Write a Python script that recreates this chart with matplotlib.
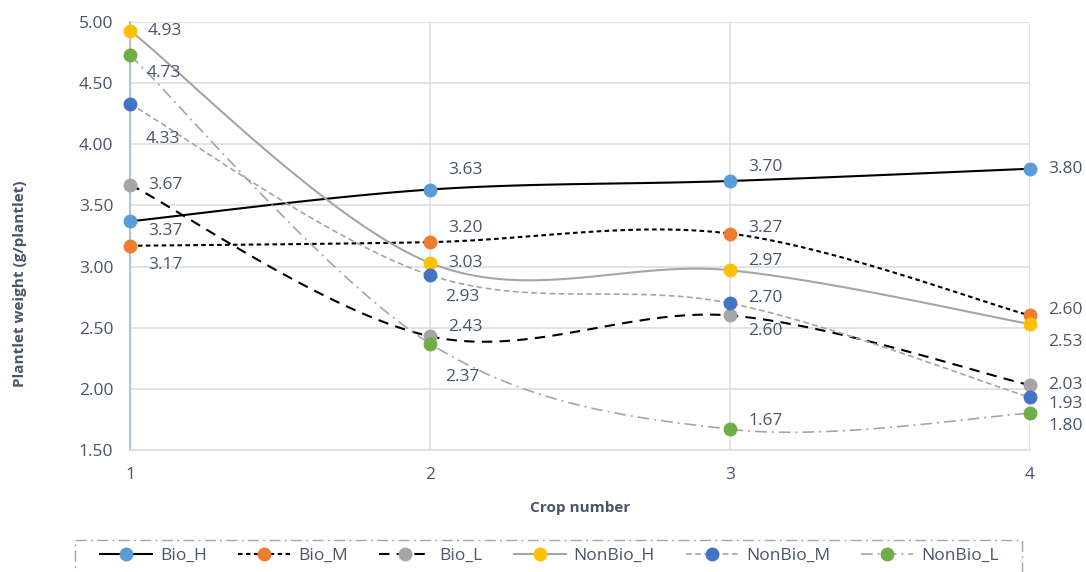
import numpy as np
import matplotlib
matplotlib.use("Agg")
import matplotlib.pyplot as plt
from matplotlib.lines import Line2D
from matplotlib.patches import Rectangle

crops = [1, 2, 3, 4]
bio_h = [3.37, 3.63, 3.70, 3.80]
bio_m = [3.17, 3.20, 3.27, 2.60]
bio_l = [3.67, 2.43, 2.60, 2.03]
nonbio_h = [4.93, 3.03, 2.97, 2.53]
nonbio_m = [4.33, 2.93, 2.70, 1.93]
nonbio_l = [4.73, 2.37, 1.67, 1.80]
series_names = ["Bio_H", "Bio_M", "Bio_L", "NonBio_H", "NonBio_M", "NonBio_L"]
y_ticks = [1.50, 2.00, 2.50, 3.00, 3.50, 4.00, 4.50, 5.00]

TEXT = "#4A5568"
GRID = "#D9DEE6"

plt.rcParams["font.family"] = ["Open Sans", "DejaVu Sans"]


def smooth(xs, ys, n=40):
    """Cardinal (Catmull-Rom) Bezier smoothing through every point."""
    p = np.column_stack([xs, ys]).astype(float)
    ext = np.vstack([p[0], p, p[-1]])
    out = [p[0]]
    t = np.linspace(0, 1, n)[1:, None]
    for i in range(len(p) - 1):
        p0, p1, p2, p3 = ext[i], ext[i + 1], ext[i + 2], ext[i + 3]
        c1 = p1 + (p2 - p0) / 6.0
        c2 = p2 - (p3 - p1) / 6.0
        seg = ((1 - t) ** 3) * p1 + 3 * ((1 - t) ** 2) * t * c1 + 3 * (1 - t) * t ** 2 * c2 + t ** 3 * p2
        out.extend(seg)
    out = np.array(out)
    return out[:, 0], out[:, 1]


fig = plt.figure(figsize=(10.86, 5.72), dpi=100)
ax = fig.add_axes([0.1197, 0.2133, 0.8287, 0.7482])

styles = [
    dict(color="black", ls="-", lw=1.5, mc="#5B9BD5"),
    dict(color="black", ls=(0, (2.2, 1.6)), lw=1.5, mc="#ED7D31"),
    dict(color="black", ls=(0, (5, 3.5)), lw=1.5, mc="#A5A5A5"),
    dict(color="#A5A5A5", ls="-", lw=1.5, mc="#FFC000"),
    dict(color="#A5A5A5", ls=(0, (3.5, 2)), lw=1.2, mc="#4472C4"),
    dict(color="#A5A5A5", ls=(0, (7, 3, 1.2, 3)), lw=1.2, mc="#70AD47"),
]
data = [bio_h, bio_m, bio_l, nonbio_h, nonbio_m, nonbio_l]

# label offsets in points (dx, dy) for each series at each crop
offsets = [
    [(13, -7), (13, 14), (13, 10), (13, 0)],
    [(13, -14), (13, 10), (13, 4), (13, 4)],
    [(13, 0), (13, 7), (13, -11), (13, 0)],
    [(13, 0), (13, 0), (13, 7), (13, -13)],
    [(11, -25), (11, -16), (13, 4), (13, -5)],
    [(12, -13), (11, -24), (13, 6), (13, -9)],
]

handles = []
for name, ys, st, offs in zip(series_names, data, styles, offsets):
    sx, sy = smooth(crops, ys)
    ax.plot(sx, sy, color=st["color"], ls=st["ls"], lw=st["lw"], zorder=3)
    ax.plot(crops, ys, ls="none", marker="o", ms=9, mfc=st["mc"], mec=st["mc"], zorder=4, clip_on=False)
    for x, y, (dx, dy) in zip(crops, ys, offs):
        ax.annotate(f"{y:.2f}", (x, y), xytext=(dx, dy), textcoords="offset points",
                    ha="left", va="center", fontsize=12.5, color=TEXT, zorder=5,
                    annotation_clip=False)
    handles.append(Line2D([0], [0], color=st["color"], ls=st["ls"], lw=st["lw"],
                          marker="o", ms=9, mfc=st["mc"], mec=st["mc"]))

ax.set_xlim(1, 4)
ax.set_ylim(1.5, 5.0)
ax.set_xticks(crops)
ax.set_yticks(y_ticks)
ax.set_yticklabels([f"{v:.2f}" for v in y_ticks])
ax.grid(True, color=GRID, lw=1.2, zorder=0)
ax.set_axisbelow(True)
for side in ["top", "right"]:
    ax.spines[side].set_visible(False)
ax.spines["bottom"].set_color(GRID)
ax.spines["bottom"].set_linewidth(1.2)
ax.spines["left"].set_color("#B4C0D3")
ax.spines["left"].set_linewidth(1.5)
ax.tick_params(axis="both", length=0, labelsize=12.5, labelcolor=TEXT)
ax.tick_params(axis="x", pad=12)
ax.tick_params(axis="y", pad=12)

ax.set_xlabel("Crop number", fontsize=11, fontweight="bold", color=TEXT, labelpad=13)
ax.set_ylabel("Plantlet weight (g/plantlet)", fontsize=11, fontweight="bold", color=TEXT)
ax.yaxis.set_label_coords(-0.114, 0.388)

leg = fig.legend(handles, series_names, loc="center", bbox_to_anchor=(0.506, 1 - 556 / 572),
                 ncol=6, frameon=False, fontsize=12.5, handlelength=3.0, columnspacing=1.8,
                 handletextpad=0.45, labelcolor=TEXT)

fig.patches.append(Rectangle((75 / 1086, -0.1), 947 / 1086, 0.1 + (572 - 540) / 572,
                             transform=fig.transFigure, fill=False, edgecolor="#A6A6A6",
                             lw=1.0, ls=(0, (8, 3, 1.5, 3))))

fig.savefig("out.png", dpi=100)
